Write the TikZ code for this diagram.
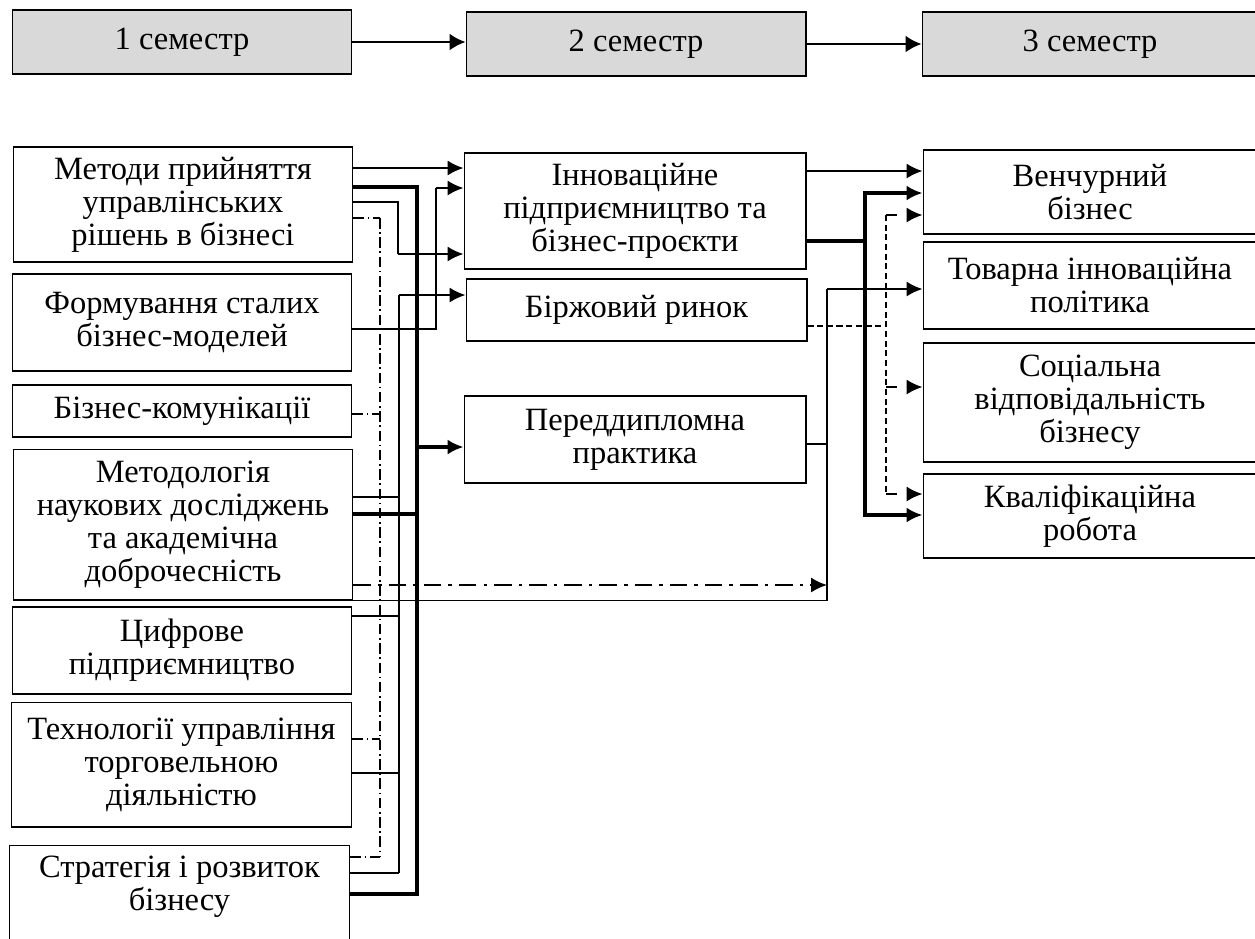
\documentclass[tikz,border=0pt]{standalone}
\usepackage{fontspec}
\setmainfont{Liberation Serif}
\usetikzlibrary{arrows.meta}
\definecolor{semgrey}{HTML}{D9D9D9}

\begin{document}
\begin{tikzpicture}[x=0.02cm, y=-0.02cm, font=\fontsize{18.5}{18.8}\selectfont,
    sem/.style={draw, line width=0.6pt, fill=semgrey, minimum height=1.28cm},
    box/.style={draw, line width=0.6pt, align=center, inner sep=0pt},
    thinl/.style={line width=0.6pt},
    bus/.style={line width=1.9pt},
    arr/.style={line width=1.1pt, -{Latex[length=9pt,width=8.5pt]}},
    toparr/.style={line width=1.2pt, -{Latex[length=9pt,width=9.5pt]}},
    busarr/.style={line width=1.9pt, -{Latex[length=9pt,width=8.5pt]}},
    dd/.style={line width=0.6pt, dash pattern=on 6pt off 2pt on 1pt off 2pt},
    ddarr/.style={line width=1.1pt, dash pattern=on 10pt off 4pt on 2pt off 4pt, -{Latex[length=9pt,width=8.5pt]}},
    dsh/.style={line width=0.7pt, dash pattern=on 3.5pt off 2pt},
    dsharr/.style={line width=1.1pt, dash pattern=on 6pt off 7pt, -{Latex[length=9pt,width=8.5pt]}}]
  \useasboundingbox (0,0) rectangle (1255,938);

  % semesters
  \node[sem, minimum width=6.8cm] (T1) at (182,42) {1 семестр};
  \node[sem, minimum width=6.8cm] (T2) at (636,44) {2 семестр};
  \node[sem, minimum width=6.72cm] (T3) at (1090,44) {3 семестр};
  \draw[toparr] (T1.east) -- (T1.east -| T2.west);
  \draw[toparr] (T2.east) -- (T2.east -| T3.west);

  % 1 semester
  \node[box, minimum width=6.8cm, minimum height=2.3cm] (L1) at (183,204.5) {Методи прийняття\\управлінських\\рішень в бізнесі};
  \node[box, minimum width=6.8cm, minimum height=1.94cm] (L2) at (182,322.5) {Формування сталих\\бізнес-моделей};
  \node[box, minimum width=6.8cm, minimum height=1.04cm] (L3) at (182,411) {Бізнес-комунікації};
  \node[box, minimum width=6.8cm, minimum height=3.02cm] (L4) at (183,524.5) {Методологія\\наукових досліджень\\та академічна\\доброчесність};
  \node[box, minimum width=6.8cm, minimum height=1.74cm] (L5) at (182,650.5) {Цифрове\\підприємництво};
  \node[box, minimum width=6.82cm, minimum height=2.5cm] (L6) at (181.5,764.5) {Технології управління\\торговельною\\діяльністю};
  \node[box, minimum width=6.82cm, minimum height=2.2cm] (L7) at (179.5,900) {};
  \node[align=center, inner sep=0pt] (L7t) at (179.5,887) {Стратегія і розвиток\\бізнесу};

  % 2 semester
  \node[box, minimum width=6.84cm, minimum height=2.32cm] (M1) at (635,211) {Інноваційне\\підприємництво та\\бізнес-проєкти};
  \node[box, minimum width=6.82cm, minimum height=1.24cm] (M2) at (636.5,310) {Біржовий ринок};
  \node[box, minimum width=6.84cm, minimum height=1.74cm] (M3) at (635,439.5) {Переддипломна\\практика};

  % 3 semester
  \node[box, minimum width=6.68cm, minimum height=1.68cm] (R1) at (1090,192) {Венчурний\\бізнес};
  \node[box, minimum width=6.68cm, minimum height=1.74cm] (R2) at (1090,285.5) {Товарна інноваційна\\політика};
  \node[box, minimum width=6.68cm, minimum height=2.38cm] (R3) at (1090,402.5) {Соціальна\\відповідальність\\бізнесу};
  \node[box, minimum width=6.68cm, minimum height=1.68cm] (R4) at (1090,516) {Кваліфікаційна\\робота};

  % junctions, left side
  \coordinate (a0) at (440,168);
  \coordinate (a1) at (398,202);
  \coordinate (a2) at (398,254);
  \coordinate (f1) at (436,188);
  \coordinate (f2) at (436,329);
  \coordinate (m1) at (399,295);
  \coordinate (m2) at (399,873);
  \coordinate (d1) at (380,218);
  \coordinate (d2) at (380,857);
  \coordinate (b1) at (417,187);
  \coordinate (b2) at (417,894);
  \coordinate (b3) at (417,514);
  \coordinate (b4) at (417,447);

  \draw[arr] (L1.east |- a0) -- (M1.west |- a0);
  \draw[thinl] (L1.east |- a1) -- (a1) -- (a2);
  \draw[arr] (a2) -- (M1.west |- a2);
  \draw[thinl] (L2.east |- f2) -- (f2) -- (f1);
  \draw[arr] (f1) -- (M1.west |- f1);
  \draw[dd] (d1) -- (d2);
  \foreach \n/\y in {L1/218, L3/414, L6/739, L7/857}
    \draw[dd] (\n.east |- 0,\y) -- (d1 |- 0,\y);
  \draw[thinl] (m2) -- (m1);
  \draw[arr] (m1) -- (M2.west |- m1);
  \foreach \n/\y in {L4/497, L5/616, L6/773, L7/873}
    \draw[thinl] (\n.east |- 0,\y) -- (m1 |- 0,\y);
  \draw[bus] (L1.east |- b1) -- (b1) -- (b2) -- (L7.east |- b2);
  \draw[bus] (L4.east |- b3) -- (b3);
  \draw[busarr] (b4) -- (M3.west |- b4);

  % junctions, right side
  \coordinate (r0) at (865,171);
  \coordinate (k0) at (865,241);
  \coordinate (k1) at (865,193);
  \coordinate (k2) at (865,515);
  \coordinate (s0) at (886,326);
  \coordinate (s1) at (886,215);
  \coordinate (s2) at (886,387);
  \coordinate (s3) at (886,494);
  \coordinate (q1) at (827,289);
  \coordinate (q3) at (827,444);
  \coordinate (q4) at (827,585);

  \draw[arr] (M1.east |- r0) -- (R1.west |- r0);
  \draw[bus] (M1.east |- k0) -- (k0);
  \draw[busarr] (k0) |- (R1.west |- k1);
  \draw[busarr] (k0) |- (R4.west |- k2);
  \draw[dsh] (M2.east |- s0) -- (s0);
  \draw[dsh] (s1) -- (s3);
  \draw[dsharr] (s1) -- (R1.west |- s1);
  \draw[dsharr] (s2) -- (R3.west |- s2);
  \draw[dsharr] (s3) -- (R4.west |- s3);
  \draw[thinl] (L4.south east) -| (q1);
  \draw[arr] (q1) -- (R2.west |- q1);
  \draw[thinl] (M3.east |- q3) -- (q3);
  \draw[ddarr] (L4.east |- q4) -- (q4);
\end{tikzpicture}
\end{document}
